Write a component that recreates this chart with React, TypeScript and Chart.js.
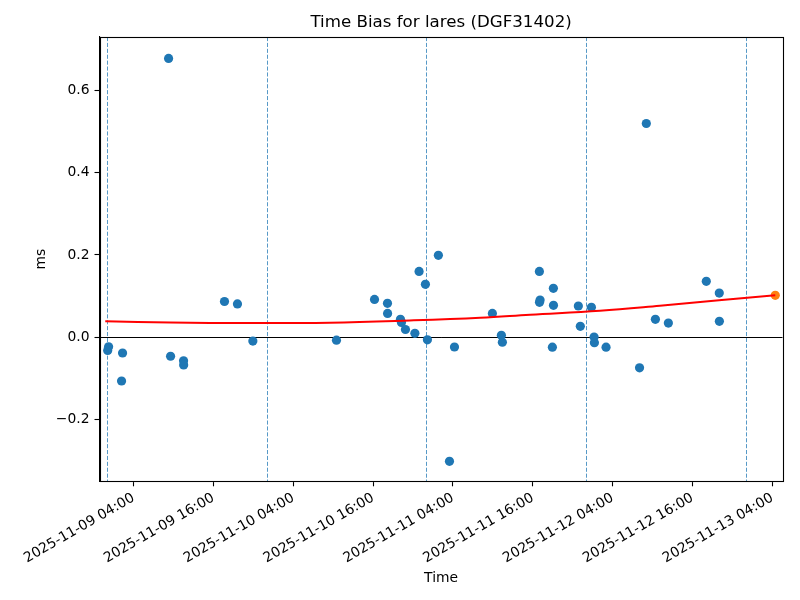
import React, { useEffect, useRef } from "react";
import { Chart, registerables } from "chart.js";

Chart.register(...registerables);

// ---- data (times are UTC) ----
const blueTimes: string[] = [
  "2025-11-09T00:07", "2025-11-09T00:15", "2025-11-09T02:12", "2025-11-09T02:21",
  "2025-11-09T09:16", "2025-11-09T09:34", "2025-11-09T11:31", "2025-11-09T11:32",
  "2025-11-09T17:40", "2025-11-09T19:37", "2025-11-09T21:56", "2025-11-10T10:30",
  "2025-11-10T16:13", "2025-11-10T18:10", "2025-11-10T18:11", "2025-11-10T20:07",
  "2025-11-10T20:16", "2025-11-10T20:52", "2025-11-10T22:17", "2025-11-10T22:55",
  "2025-11-10T23:52", "2025-11-11T00:10", "2025-11-11T01:49", "2025-11-11T03:29",
  "2025-11-11T04:14", "2025-11-11T09:56", "2025-11-11T11:17", "2025-11-11T11:26",
  "2025-11-11T17:00", "2025-11-11T17:06", "2025-11-11T17:01", "2025-11-11T19:06",
  "2025-11-11T19:07", "2025-11-11T18:57", "2025-11-11T22:51", "2025-11-11T23:09",
  "2025-11-12T00:49", "2025-11-12T01:13", "2025-11-12T01:16", "2025-11-12T03:01",
  "2025-11-12T08:03", "2025-11-12T09:04", "2025-11-12T10:26", "2025-11-12T12:23",
  "2025-11-12T18:05", "2025-11-12T20:02", "2025-11-12T20:03",
];
const blueValues: number[] = [
  -0.032, -0.023, -0.106, -0.038,
  0.677, -0.046, -0.057, -0.067,
  0.087, 0.081, -0.009, -0.007,
  0.092, 0.0825, 0.058, 0.0437,
  0.036, 0.019, 0.0097, 0.16,
  0.1286, -0.006, 0.199, -0.301,
  -0.0235, 0.058, 0.005, -0.012,
  0.16, 0.0905, 0.085, 0.119,
  0.0777, -0.024, 0.076, 0.0267,
  0.0728, 0.0007, -0.013, -0.024,
  -0.074, 0.519, 0.0437, 0.0347,
  0.136, 0.1075, 0.0388,
];

const fitTimes: string[] = [
  "2025-11-08T23:45", "2025-11-09T09:30", "2025-11-09T21:30", "2025-11-10T09:30",
  "2025-11-10T21:30", "2025-11-11T08:06", "2025-11-11T15:36", "2025-11-12T02:06",
  "2025-11-12T11:06", "2025-11-12T20:00", "2025-11-13T04:27",
];
const fitValues: number[] = [
  0.0388, 0.0358, 0.0345, 0.0356, 0.041, 0.0476, 0.055, 0.0646, 0.0767, 0.0898, 0.102,
];

const predTimes: string[] = ["2025-11-13T04:27"];
const predValues: number[] = [0.102];

const dayLineTimes: string[] = [
  "2025-11-09T00:00", "2025-11-10T00:00", "2025-11-11T00:00", "2025-11-12T00:00", "2025-11-13T00:00",
];

const xTickTimes: string[] = [
  "2025-11-09T04:00", "2025-11-09T16:00", "2025-11-10T04:00", "2025-11-10T16:00",
  "2025-11-11T04:00", "2025-11-11T16:00", "2025-11-12T04:00", "2025-11-12T16:00",
  "2025-11-13T04:00",
];
const yTickValues: number[] = [-0.2, 0.0, 0.2, 0.4, 0.6];

const xMinTime = "2025-11-08T22:53";
const xMaxTime = "2025-11-13T05:34";
const yMin = -0.3495;
const yMax = 0.729;

const titleText = "Time Bias for lares (DGF31402)";
const xTitle = "Time";
const yTitle = "ms";

// ---- helpers ----
const t = (s: string) => Date.parse(s + ":00Z");
const pad2 = (n: number) => (n < 10 ? "0" + n : "" + n);
const fmt = (v: number) => {
  const d = new Date(v);
  return `${d.getUTCFullYear()}-${pad2(d.getUTCMonth() + 1)}-${pad2(d.getUTCDate())} ${pad2(
    d.getUTCHours()
  )}:${pad2(d.getUTCMinutes())}`;
};

const FONT = "'DejaVu Sans', sans-serif";

const decorPlugin = {
  id: "decor",
  beforeDatasetsDraw(chart: any) {
    const { ctx, chartArea } = chart;
    const xs = chart.scales.x;
    const ys = chart.scales.y;
    ctx.save();
    ctx.beginPath();
    ctx.rect(chartArea.left, chartArea.top, chartArea.right - chartArea.left, chartArea.bottom - chartArea.top);
    ctx.clip();
    // day lines
    ctx.strokeStyle = "rgba(31,119,180,0.75)";
    ctx.lineWidth = 1.0;
    ctx.setLineDash([4.1, 1.8]);
    dayLineTimes.forEach((s) => {
      const px = Math.round(xs.getPixelForValue(t(s))) + 0.5;
      ctx.beginPath();
      ctx.moveTo(px, chartArea.top);
      ctx.lineTo(px, chartArea.bottom);
      ctx.stroke();
    });
    // zero line
    ctx.setLineDash([]);
    ctx.strokeStyle = "#000";
    ctx.lineWidth = 1.0;
    const py = Math.round(ys.getPixelForValue(0)) + 0.5;
    ctx.beginPath();
    ctx.moveTo(chartArea.left, py);
    ctx.lineTo(chartArea.right, py);
    ctx.stroke();
    ctx.restore();
  },
  afterDraw(chart: any) {
    const { ctx, chartArea } = chart;
    ctx.save();
    ctx.strokeStyle = "#000";
    ctx.lineWidth = 1.1;
    ctx.strokeRect(
      Math.round(chartArea.left) + 0.5,
      Math.round(chartArea.top) + 0.5,
      Math.round(chartArea.right) - Math.round(chartArea.left),
      Math.round(chartArea.bottom) - Math.round(chartArea.top)
    );
    ctx.restore();
  },
};

export default function App() {
  const ref = useRef<HTMLCanvasElement>(null);

  useEffect(() => {
    if (!ref.current) return;
    Chart.defaults.font.family = FONT;
    Chart.defaults.color = "#000";
    const chart = new Chart(ref.current, {
      type: "scatter",
      data: {
        datasets: [
          {
            label: "fit",
            data: fitTimes.map((s, i) => ({ x: t(s), y: fitValues[i] })),
            showLine: true,
            borderColor: "#ff0000",
            borderWidth: 2,
            pointRadius: 0,
            tension: 0.4,
            fill: false,
          } as any,
          {
            label: "prediction",
            data: predTimes.map((s, i) => ({ x: t(s), y: predValues[i] })),
            backgroundColor: "#ff7f0e",
            borderWidth: 0,
            pointRadius: 4.6,
          },
          {
            label: "time bias",
            data: blueTimes.map((s, i) => ({ x: t(s), y: blueValues[i] })),
            backgroundColor: "#1f77b4",
            borderWidth: 0,
            pointRadius: 4.6,
          },
        ],
      },
      options: {
        animation: false,
        responsive: false,
        devicePixelRatio: 1,
        layout: { padding: { left: 0, top: 0, bottom: 0, right: 17.3 } },
        plugins: {
          legend: { display: false },
          tooltip: { enabled: false },
          title: {
            display: true,
            text: titleText,
            fullSize: false,
            color: "#000",
            font: { family: FONT, size: 16.67, weight: "normal", lineHeight: 1.2 },
            padding: { top: 12.5, bottom: 4.5 },
          },
        },
        scales: {
          x: {
            type: "linear",
            min: t(xMinTime),
            max: t(xMaxTime),
            afterBuildTicks: (scale: any) => {
              scale.ticks = xTickTimes.map((s) => ({ value: t(s) }));
            },
            afterFit: (scale: any) => {
              scale.height = 118.7;
            },
            ticks: {
              autoSkip: false,
              minRotation: 30,
              maxRotation: 30,
              padding: 3.5,
              color: "#000",
              font: { family: FONT, size: 13.89 },
              callback: (v: any) => fmt(Number(v)),
            },
            grid: {
              drawOnChartArea: false,
              drawTicks: true,
              tickLength: 5,
              tickColor: "#000",
              tickWidth: 1.1,
            },
            border: { display: true, color: "#000", width: 1.1 },
            title: {
              display: true,
              text: xTitle,
              color: "#000",
              font: { family: FONT, size: 13.89 },
              padding: { top: 0, bottom: 13.6 },
            },
          },
          y: {
            type: "linear",
            min: yMin,
            max: yMax,
            afterBuildTicks: (scale: any) => {
              scale.ticks = yTickValues.map((v) => ({ value: v }));
            },
            afterFit: (scale: any) => {
              scale.width = 99.5;
            },
            ticks: {
              padding: 5,
              color: "#000",
              font: { family: FONT, size: 13.89 },
              callback: (v: any) => {
                const n = Number(v);
                const s = Math.abs(n).toFixed(1);
                return n < -1e-9 ? "\u2212" + s : s;
              },
            },
            grid: {
              drawOnChartArea: false,
              drawTicks: true,
              tickLength: 5,
              tickColor: "#000",
              tickWidth: 1.1,
            },
            border: { display: true, color: "#000", width: 1.1 },
            title: {
              display: true,
              text: yTitle,
              color: "#000",
              font: { family: FONT, size: 13.89 },
              padding: { top: 33.5, bottom: 0 },
            },
          },
        },
      },
      plugins: [decorPlugin],
    });
    return () => chart.destroy();
  }, []);

  return (
    <div style={{ position: "absolute", left: 0, top: 0, width: 800, height: 600, background: "#fff" }}>
      <canvas ref={ref} width={800} height={600} style={{ width: 800, height: 600, display: "block" }} />
    </div>
  );
}
